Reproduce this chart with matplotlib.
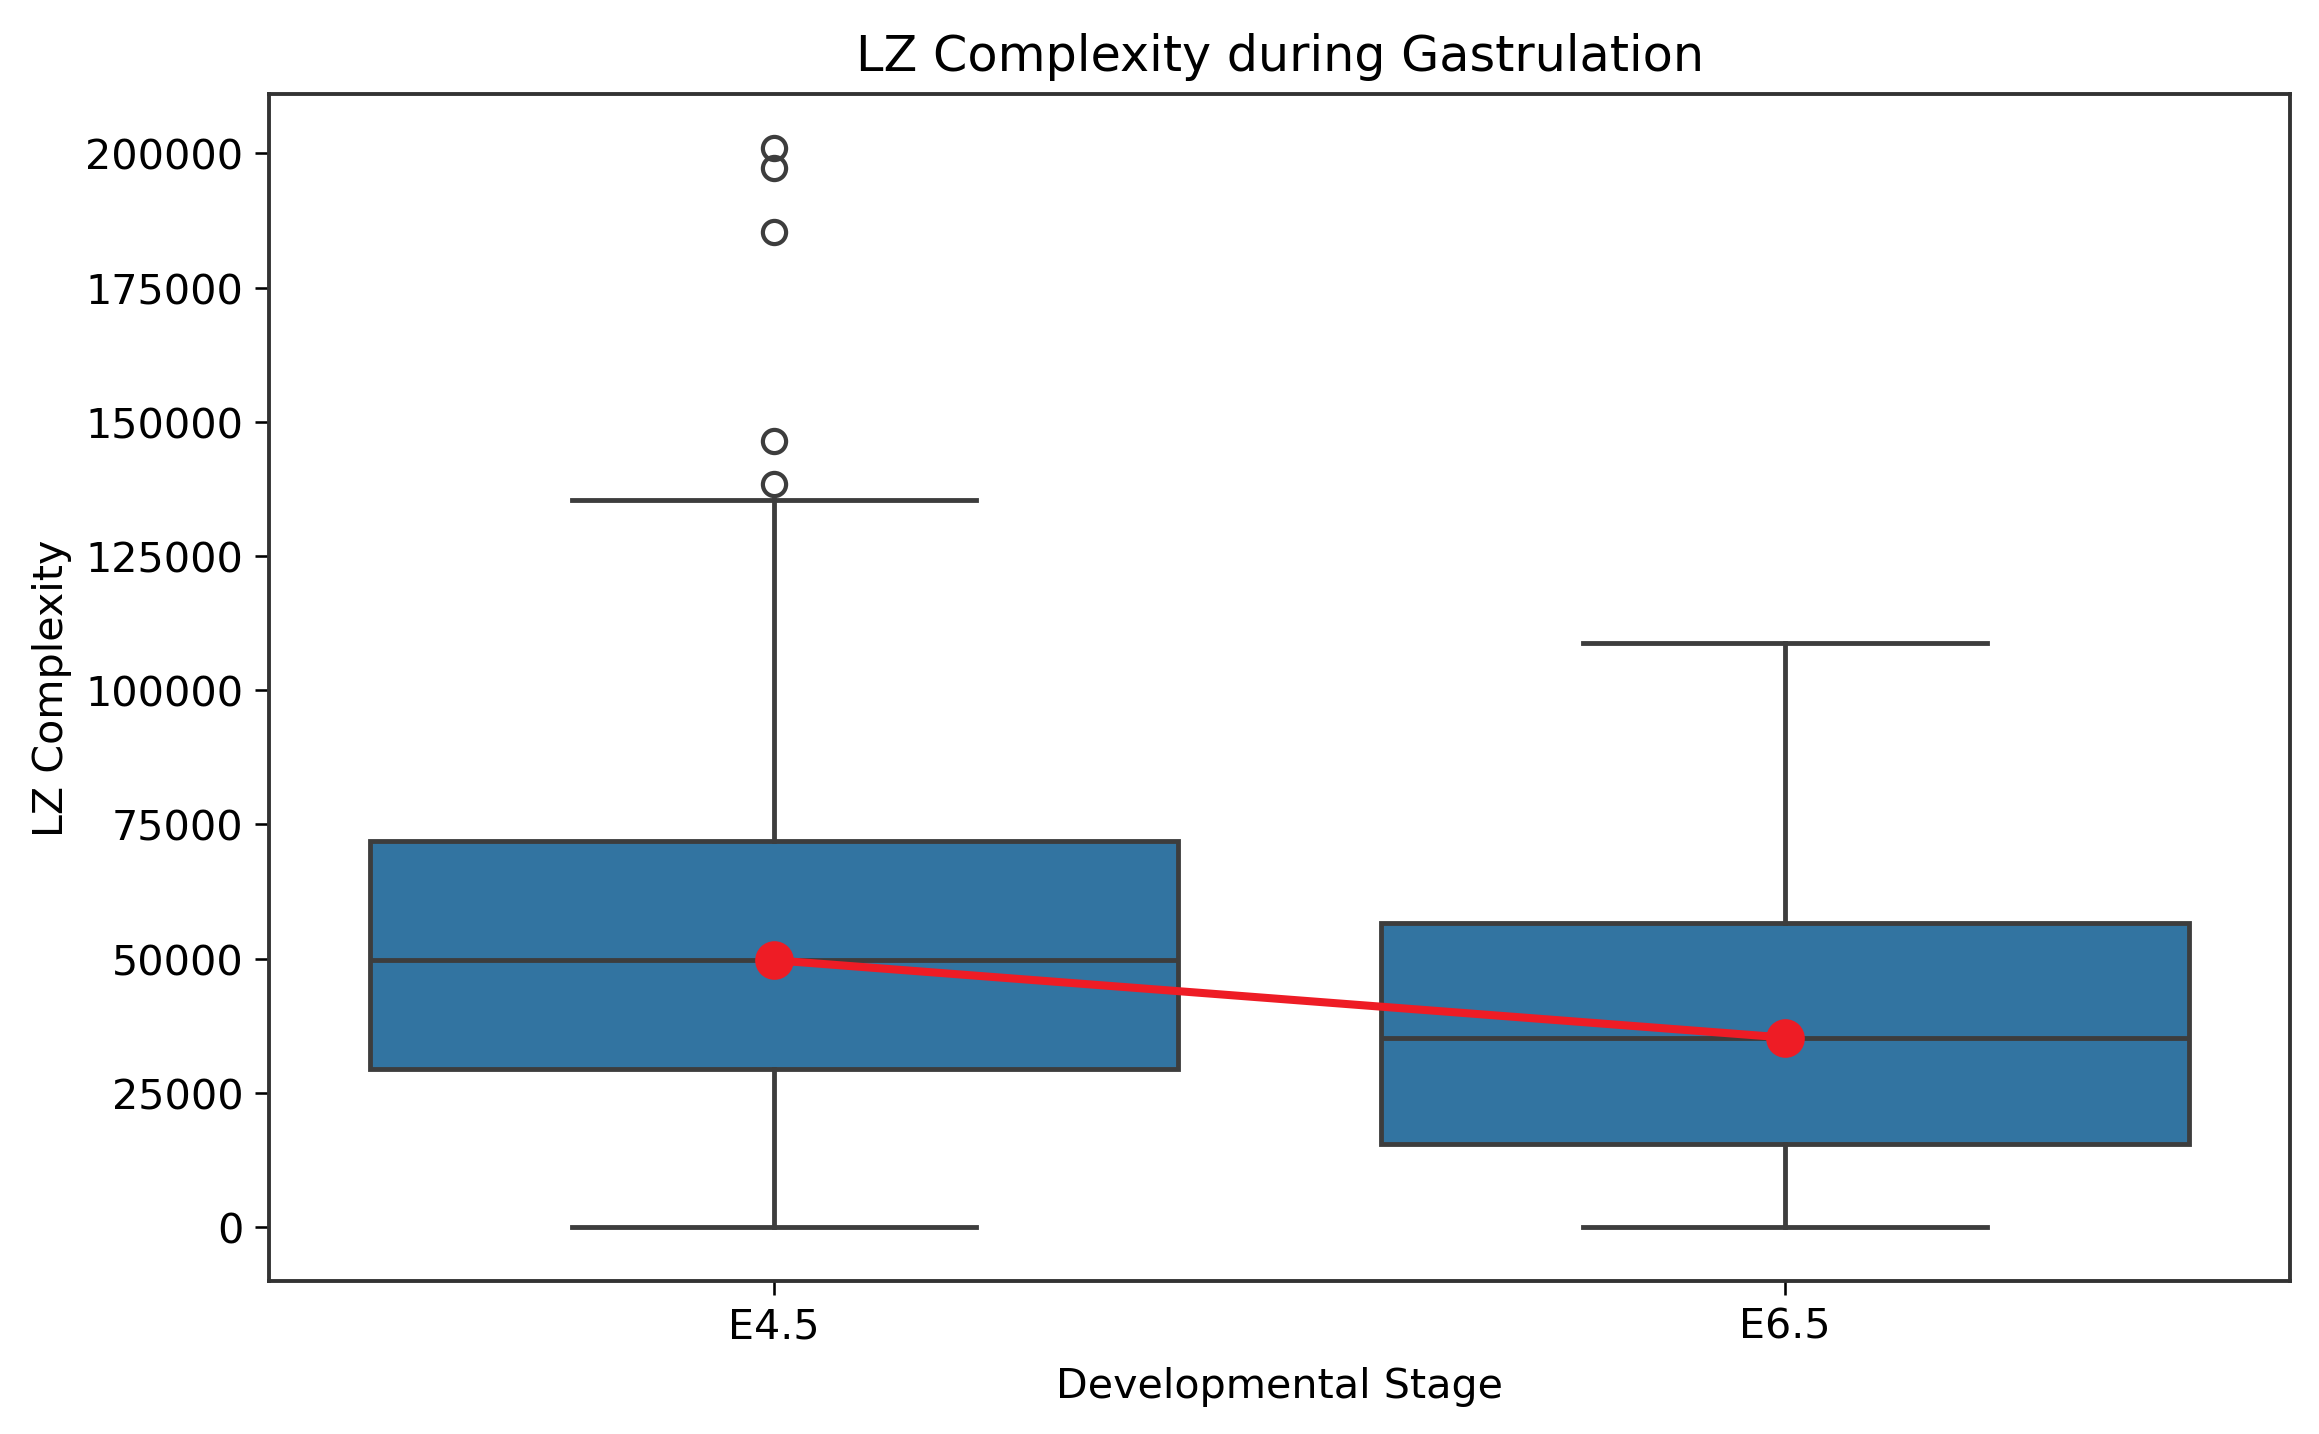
import numpy as np
import matplotlib
matplotlib.use("Agg")
import matplotlib.pyplot as plt

# 各阶段箱线统计
stages = ["E4.5", "E6.5"]
q1 = [29500, 15400]
medians = [49700, 35300]
q3 = [72000, 56600]
whisker_low = [0, 0]
whisker_high = [135500, 108700]
outliers_e45 = [201000, 197300, 185400, 146500, 138500]
outliers_e65 = []

box_color = "#3274a1"
line_color = "#3d3d3d"

plt.rcParams["font.size"] = 12.8
plt.rcParams["xtick.major.size"] = 4.5
plt.rcParams["ytick.major.size"] = 4.5

fig = plt.figure(figsize=(10, 6.188), dpi=231.9)
ax = fig.add_axes([0.116, 0.1066, 0.8715, 0.8272])

stats = []
for i, name in enumerate(stages):
    stats.append({
        "label": name,
        "q1": q1[i],
        "med": medians[i],
        "q3": q3[i],
        "whislo": whisker_low[i],
        "whishi": whisker_high[i],
        "fliers": [outliers_e45, outliers_e65][i],
    })

positions = np.arange(len(stages))
ax.bxp(
    stats, positions=positions, widths=0.8, patch_artist=True,
    boxprops=dict(facecolor=box_color, edgecolor=line_color, linewidth=1.5),
    medianprops=dict(color=line_color, linewidth=1.5),
    whiskerprops=dict(color=line_color, linewidth=1.5),
    capprops=dict(color=line_color, linewidth=1.5),
    flierprops=dict(marker="o", markerfacecolor="none", markeredgecolor=line_color,
                    markersize=7.2, markeredgewidth=1.3),
    capwidths=0.4,
)

# 中位数连线
ax.plot(positions, medians, "o-", color="#ee1c25", linewidth=2.5, markersize=11, zorder=5)

ax.set_xlim(-0.5, 1.5)
ax.set_ylim(-10050, 211050)
ax.set_yticks(np.arange(0, 200001, 25000))
ax.set_xticks(positions)
ax.set_xticklabels(stages)
for s in ax.spines.values():
    s.set_linewidth(1.2)
    s.set_color("#333333")

ax.set_title("LZ Complexity during Gastrulation", fontsize=15.3, pad=7.5)
ax.set_xlabel("Developmental Stage", labelpad=6)
ax.set_ylabel("LZ Complexity")

fig.savefig("out.png", dpi=231.9)
